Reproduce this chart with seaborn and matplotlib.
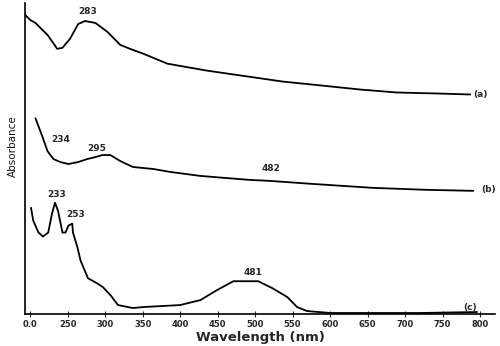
import pandas as pd
import matplotlib.pyplot as plt
import seaborn as sns

sns.set_style("white")
plt.rcParams['font.family'] = ['DejaVu Sans']

# spectrum (a)
wl_a = [191, 192, 200, 207, 223, 236, 243, 253, 264, 273, 287, 303, 320, 333,
        351, 383, 436, 491, 537, 589, 640, 689, 743, 787]
abs_a = [3.11, 3.02, 2.96, 2.93, 2.81, 2.67, 2.68, 2.77, 2.92, 2.95, 2.93, 2.84,
         2.71, 2.67, 2.62, 2.52, 2.45, 2.39, 2.34, 2.30, 2.26, 2.23, 2.22, 2.21]

# spectrum (b)
wl_b = [207, 211, 216, 223, 231, 240, 251, 264, 276, 287, 296, 307, 320, 337,
        364, 387, 427, 493, 520, 576, 657, 729, 791]
abs_b = [1.97, 1.89, 1.79, 1.64, 1.56, 1.53, 1.51, 1.53, 1.56, 1.58, 1.60, 1.60,
         1.54, 1.48, 1.46, 1.43, 1.39, 1.35, 1.34, 1.31, 1.27, 1.25, 1.24]

# spectrum (c)
wl_c = [201, 204, 211, 217, 224, 229, 233, 237, 243, 247, 251, 256, 257, 263,
        267, 277, 289, 297, 307, 317, 337, 351, 400, 427, 449, 471, 504, 523,
        543, 556, 569, 600, 649, 720, 796]
abs_c = [1.07, 0.94, 0.82, 0.78, 0.82, 1.01, 1.12, 1.04, 0.82, 0.82, 0.89, 0.91,
         0.82, 0.67, 0.54, 0.36, 0.31, 0.27, 0.19, 0.09, 0.06, 0.07, 0.09, 0.14,
         0.24, 0.33, 0.33, 0.26, 0.17, 0.07, 0.03, 0.01, 0.01, 0.01, 0.02]

tick_pos = [200, 250, 300, 350, 400, 450, 500, 550, 600, 650, 700, 750, 800]
tick_labels = ['0.0', '250', '300', '350', '400', '450', '500', '550', '600',
               '650', '700', '750', '800']

# peak labels: text, x, y
peak_text = ['283', '234', '295', '482', '233', '253', '481']
peak_x = [277, 240, 289, 521, 235, 261, 497]
peak_y = [3.05, 1.76, 1.67, 1.46, 1.20, 1.00, 0.42]

curve_text = ['(a)', '(b)', '(c)']
curve_x = [801, 811, 787]
curve_y = [2.21, 1.25, 0.07]

fig = plt.figure(figsize=(5, 3.46), dpi=100)
ax = fig.add_axes([0.05, 0.0925, 0.94, 0.8985])

for wl, ab in [(wl_a, abs_a), (wl_b, abs_b), (wl_c, abs_c)]:
    df = pd.DataFrame({'wl': wl, 'abs': ab})
    sns.lineplot(data=df, x='wl', y='abs', color='black', linewidth=1.3, ax=ax)

for t, x, y in zip(peak_text, peak_x, peak_y):
    ax.text(x, y, t, fontsize=6.5, fontweight='bold', ha='center', va='center')
for t, x, y in zip(curve_text, curve_x, curve_y):
    ax.text(x, y, t, fontsize=6.5, fontweight='bold', ha='center', va='center')

ax.set_xlim(193, 820)
ax.set_ylim(0, 3.13)
ax.set_xticks(tick_pos)
ax.set_xticklabels(tick_labels, fontsize=6, fontweight='bold')
ax.set_yticks([])
ax.tick_params(axis='x', direction='inout', length=4, width=0.8, pad=2, bottom=True)
ax.set_xlabel('Wavelength (nm)', fontsize=9.5, fontweight='bold', labelpad=2)
ax.set_ylabel('Absorbance', fontsize=7.5, color='#111111',
              family=['Liberation Sans Narrow', 'DejaVu Sans'])
ax.yaxis.set_label_coords(-0.014, 0.54)

for s in ['top', 'right']:
    ax.spines[s].set_visible(False)
for s in ['left', 'bottom']:
    ax.spines[s].set_color('black')
    ax.spines[s].set_linewidth(1.2)

fig.savefig('out.png', dpi=100)
